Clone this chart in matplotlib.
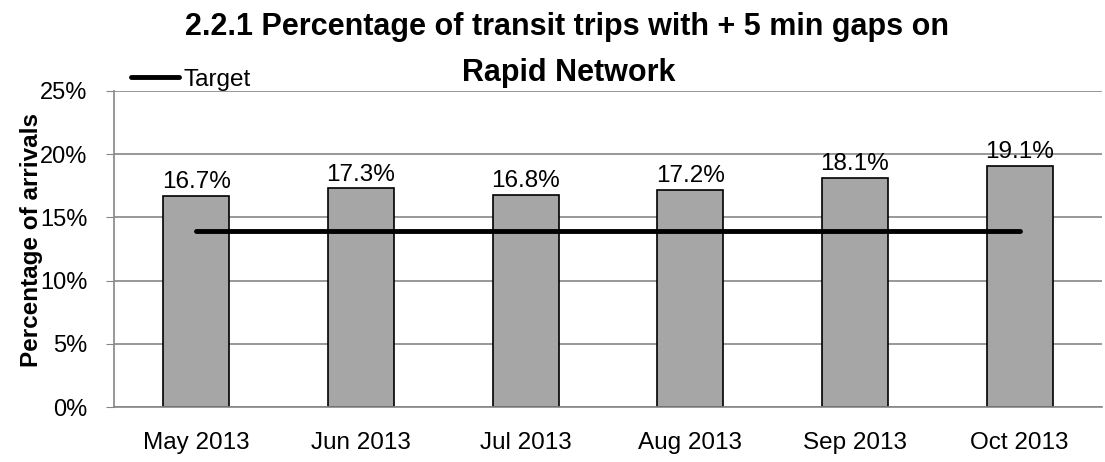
import numpy as np
import matplotlib.pyplot as plt
from matplotlib.ticker import PercentFormatter

plt.rcParams['font.family'] = ['Liberation Sans', 'DejaVu Sans']

# data
months = ['May 2013', 'Jun 2013', 'Jul 2013', 'Aug 2013', 'Sep 2013', 'Oct 2013']
pct_gaps = [16.7, 17.3, 16.8, 17.2, 18.1, 19.1]
target = [13.9, 13.9, 13.9, 13.9, 13.9, 13.9]

fig = plt.figure(figsize=(11.05, 4.62), dpi=100)
ax = fig.add_axes([114 / 1105, 1 - 407 / 462, (1102 - 114) / 1105, (407 - 91) / 462])

x = np.arange(len(months))
ax.bar(x, pct_gaps, width=0.4, color='#a6a6a6', edgecolor='black', linewidth=1.2, zorder=2)
line, = ax.plot(x, target, color='black', linewidth=3.5, solid_capstyle='round', zorder=3, label='Target')

# value labels
for xi, v in zip(x, pct_gaps):
    ax.annotate(f'{v:.1f}%', (xi, v), xytext=(0, 2), textcoords='offset points',
                ha='center', va='bottom', fontsize=17.5)

ax.set_xlim(-0.5, len(months) - 0.5)
ax.set_ylim(0, 25)
ax.set_yticks(np.arange(0, 26, 5))
ax.yaxis.set_major_formatter(PercentFormatter(decimals=0))
ax.set_xticks(x)
ax.set_xticklabels(months, fontsize=17.5)
ax.tick_params(axis='y', labelsize=17, length=6, color='#868686', pad=13)
ax.tick_params(axis='x', length=0, pad=18)

ax.grid(axis='y', color='#868686', linewidth=1.2, zorder=0)
ax.set_axisbelow(True)
for s in ['top', 'right']:
    ax.spines[s].set_visible(False)
ax.spines['left'].set_color('#868686')
ax.spines['left'].set_linewidth(1.2)
ax.spines['bottom'].set_color('#868686')
ax.spines['bottom'].set_linewidth(1.2)

ax.set_ylabel('Percentage of arrivals', fontsize=17.5, fontweight='bold')
ax.yaxis.set_label_coords(-0.072, 0.53)

# title, two lines placed like the original
title_l1 = '2.2.1 Percentage of transit trips with + 5 min gaps on'
title_l2 = 'Rapid Network'
fig.text(567 / 1105, 1 - 35 / 462, title_l1, ha='center', va='baseline', fontsize=22, fontweight='bold')
fig.text(569 / 1105, 1 - 81 / 462, title_l2, ha='center', va='baseline', fontsize=22, fontweight='bold')

ax.legend(handles=[line], loc='center left', bbox_to_anchor=(0.017, 1.055 - 6 / 316), frameon=False,
          fontsize=17.5, handlelength=2.0, handletextpad=0.15, borderaxespad=0, borderpad=0.0)

fig.savefig('out.png', dpi=100)
